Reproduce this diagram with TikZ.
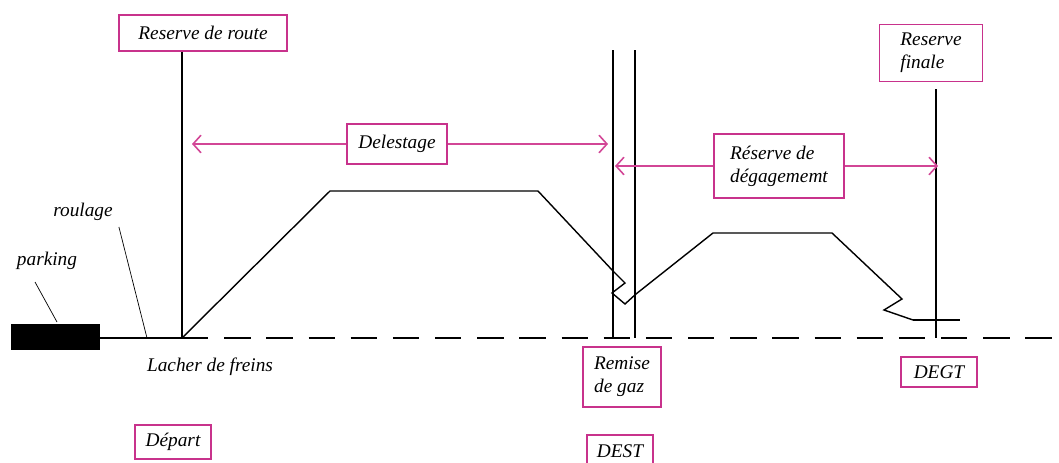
\documentclass[tikz,border=0pt]{standalone}
\usepackage{fontspec}
\setmainfont{Liberation Serif}
\usetikzlibrary{arrows.meta}
\definecolor{boxpink}{RGB}{200, 50, 140}
\definecolor{arrowpink}{RGB}{210, 70, 150}

\begin{document}
\begin{tikzpicture}[x = 0.02cm, y = -0.02cm, font = \itshape\fontsize{11}{13}\selectfont,
			lbl/.style = {draw = boxpink, line width = 1pt, fill = white, inner sep = 2pt},
			fleche/.style = {draw = arrowpink, line width = 0.9pt, -{Straight Barb[length = 4.5pt, width = 10pt]}},
			trait/.style = {line width = 1pt}]
			\useasboundingbox (0,0) rectangle (1059,463);
			\node (park) at (55.5,337) [fill = black, minimum width = 1.78cm, minimum height = 0.52cm, inner sep = 0] {};
			\node (parking) at (47,261) {parking};
			\node (roulage) at (83,212) {roulage};
			\node (lacher) at (210,367) {Lacher de freins};
			\node (route) at (203,33) [lbl, minimum width = 3.36cm, minimum height = 0.72cm] {Reserve de route};
			\node (delest) at (397,144) [lbl, minimum width = 2cm, minimum height = 0.8cm] {Delestage};
			\node (degag) at (779,166) [lbl, minimum width = 2.6cm, minimum height = 1.28cm, align = left] {Réserve de\\dégagememt};
			\node (finale) at (931,53) [lbl, minimum width = 2.06cm, minimum height = 1.14cm, align = left] {Reserve\\finale};
			\node (remise) at (622,377) [lbl, minimum width = 1.56cm, minimum height = 1.2cm, align = left] {Remise\\de gaz};
			\node (dest) at (620,451) [lbl, minimum width = 1.32cm, minimum height = 0.64cm] {DEST};
			\node (degt) at (939,372) [lbl, minimum width = 1.52cm, minimum height = 0.6cm] {DEGT};
			\node (depart) at (173,442) [lbl, minimum width = 1.52cm, minimum height = 0.68cm] {Départ};
			\coordinate (lf) at (182,338);
			\coordinate (fin) at (1059,338);
			\coordinate (pk) at (35,282);
			\coordinate (rg1) at (613,50);
			\coordinate (rg2) at (635,50);
			\coordinate (rf) at (936,89);
			\draw[trait] (park.east |- lf) -- (lf);
			\draw[trait, dash pattern = on 15pt off 9pt] (lf) -- (fin);
			\draw (pk) -- (57,322);
			\draw (roulage.south east) -- (147,338);
			\draw[trait] (lf |- route.south) -- (lf);
			\draw[trait] (rg1) -- (rg1 |- lf);
			\draw[trait] (rg2) -- (rg2 |- lf);
			\draw[trait] (rf) -- (rf |- lf);
			\draw[line width = 0.8pt] (lf) -- (330,191) -- (538,191) -- (613,271) -- (625,283) -- (612,293) -- (625,304) -- (636,294) -- (713,233) -- (832,233) -- (902,299) -- (884,310) -- (913,320);
			\draw[trait] (913,320) -- (960,320);
			\draw[fleche] (delest.west) -- (192,144);
			\draw[fleche] (delest.east) -- (608,144);
			\draw[fleche] (degag.west) -- (615,166);
			\draw[fleche] (degag.east) -- (938,166);
			\end{tikzpicture}
\end{document}
